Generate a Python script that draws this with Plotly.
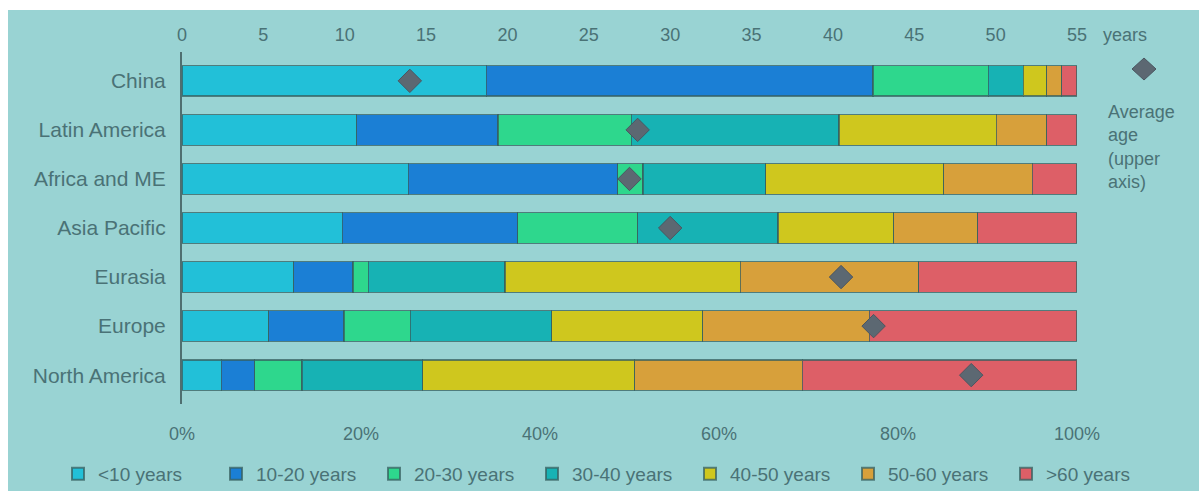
import plotly.graph_objects as go

# Regions, top to bottom
regions = ["China", "Latin America", "Africa and ME", "Asia Pacific",
           "Eurasia", "Europe", "North America"]

# Share of fleet by age band (% of each region's total)
age_lt10 = [34.0, 19.5, 25.3, 17.9, 12.5, 9.7, 4.4]
age_10_20 = [43.2, 15.8, 23.4, 19.6, 6.6, 8.4, 3.7]
age_20_30 = [12.9, 14.9, 2.8, 13.4, 1.7, 7.4, 5.3]
age_30_40 = [3.9, 23.2, 13.7, 15.7, 15.3, 15.8, 13.5]
age_40_50 = [2.6, 17.6, 19.9, 12.9, 26.3, 16.9, 23.7]
age_50_60 = [1.7, 5.6, 9.9, 9.4, 19.9, 18.6, 18.7]
age_gt60 = [1.7, 3.4, 5.0, 11.1, 17.7, 23.2, 30.7]

# Average age in years (upper axis)
avg_age = [14.0, 28.0, 27.5, 30.0, 40.5, 42.5, 48.5]

band_names = ["<10 years", "10-20 years", "20-30 years", "30-40 years",
              "40-50 years", "50-60 years", ">60 years"]
band_values = [age_lt10, age_10_20, age_20_30, age_30_40,
               age_40_50, age_50_60, age_gt60]
band_colors = ["#22c0d8", "#1b7fd5", "#2ed78d", "#17b2b4",
               "#cfc71e", "#d7a03b", "#dd5f67"]

pct_ticks = [0, 20, 40, 60, 80, 100]
pct_labels = [f"{v}%" for v in pct_ticks]
year_ticks = list(range(0, 56, 5))

BG = "#99d3d3"
TXT = "#4a7276"
MARK = "#5c6872"
FONT = "Liberation Sans, Arial, sans-serif"

fig = go.Figure()

# the key row is split over two legend boxes so it stays on one line
for i, (name, vals, col) in enumerate(zip(band_names, band_values, band_colors)):
    fig.add_trace(go.Bar(
        y=regions, x=vals, name=name, orientation="h",
        legend="legend" if i < 4 else "legend2",
        marker=dict(color=col, line=dict(color="rgba(55,95,95,0.75)", width=1.2)),
        hoverinfo="x+y+name",
    ))

fig.add_trace(go.Scatter(
    y=regions, x=avg_age, xaxis="x2", mode="markers", showlegend=False,
    name="Average age",
    marker=dict(symbol="diamond", size=18, color=MARK,
                line=dict(color="#4a5660", width=1)),
))

# pixel -> paper helpers for the 1199x491 canvas
L, R, T, B = 182, 122, 52, 87
W, H = 1199, 491
pw, ph = W - L - R, H - T - B


def px(xp):
    return (xp - L) / pw


def py(yp):
    return (H - B - yp) / ph


ENTRY = 113
STEP = ENTRY + 45
legend_style = dict(orientation="h", xanchor="left", yanchor="middle",
                    y=py(474), entrywidth=ENTRY, entrywidthmode="pixels",
                    itemwidth=30,
                    font=dict(size=19, color=TXT), bgcolor="rgba(0,0,0,0)",
                    itemsizing="constant", traceorder="normal")

# diamond key for the average-age markers, beside the bars
kx, ky, hw, hh = 1144, 69, 12, 11
key_path = (f"M{px(kx - hw)},{py(ky)} L{px(kx)},{py(ky - hh)} "
            f"L{px(kx + hw)},{py(ky)} L{px(kx)},{py(ky + hh)} Z")

fig.update_layout(
    width=W, height=H,
    margin=dict(l=L, r=R, t=T, b=B, pad=0, autoexpand=False),
    barmode="stack", bargap=0.38,
    paper_bgcolor="white", plot_bgcolor="rgba(0,0,0,0)",
    font=dict(family=FONT, color=TXT, size=18),
    xaxis=dict(range=[0, 100], tickvals=pct_ticks, ticktext=pct_labels,
               showgrid=False, zeroline=False, showline=False,
               ticks="outside", ticklen=13, tickcolor="rgba(0,0,0,0)",
               tickfont=dict(size=18, color=TXT)),
    xaxis2=dict(range=[0, 55], tickvals=year_ticks, overlaying="x",
                side="top", anchor="y", showgrid=False, zeroline=False,
                showline=False, ticks="outside", ticklen=3,
                tickcolor="rgba(0,0,0,0)",
                tickfont=dict(size=18, color=TXT)),
    yaxis=dict(categoryorder="array", categoryarray=regions,
               autorange="reversed", showgrid=False, zeroline=False,
               showline=True, linecolor="#4f6f70", linewidth=2,
               ticks="outside", ticklen=10, tickcolor="rgba(0,0,0,0)",
               tickfont=dict(size=21, color=TXT)),
    legend=dict(x=px(58), **legend_style),
    legend2=dict(x=px(58 + 4 * STEP), **legend_style),
    shapes=[
        dict(type="rect", xref="paper", yref="paper",
             x0=px(8), x1=px(W + 5), y0=py(H + 5), y1=py(10),
             fillcolor=BG, line=dict(width=0), layer="below"),
        dict(type="path", xref="paper", yref="paper", path=key_path,
             fillcolor=MARK, line=dict(color="#4a5660", width=1)),
    ],
    annotations=[
        dict(text="years", xref="paper", yref="paper", x=px(1101),
             y=py(35), xanchor="left", yanchor="middle", showarrow=False,
             font=dict(size=18, color=TXT)),
        dict(text="Average<br>age<br>(upper<br>axis)", xref="paper",
             yref="paper", x=px(1106), y=py(147), xanchor="left",
             yanchor="middle", align="left", showarrow=False,
             font=dict(size=18, color=TXT)),
    ],
)

fig.write_html("out.html")
